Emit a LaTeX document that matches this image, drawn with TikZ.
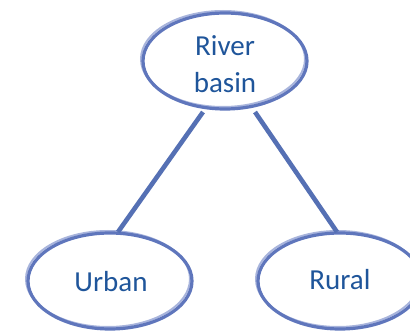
\documentclass[tikz,border=0pt]{standalone}
\usepackage{fontspec}
\setmainfont{Carlito}
\usetikzlibrary{shapes.geometric}
\definecolor{edgeblue}{HTML}{5570B4}
\definecolor{ringblue}{HTML}{5F76BC}
\definecolor{ringlight}{HTML}{A8B4DC}
\definecolor{txtblue}{HTML}{1F559A}
\tikzset{
  bubble/.style={ellipse, draw=ringblue, line width=3.2pt, minimum width=164pt, minimum height=96pt, inner sep=0pt},
  halo/.style={ellipse, draw=ringlight, line width=2pt, minimum width=164pt, minimum height=96pt, inner sep=0pt},
  label/.style={text=txtblue, font=\fontsize{29}{37}\selectfont, align=center},
  link/.style={draw=edgeblue, line width=4.6pt}
}
\begin{document}
\begin{tikzpicture}[x=1pt,y=-1pt]
\useasboundingbox (0,0) rectangle (410,331);
\node[halo] (basinhalo) at (223,59) {};
\node[halo] (urbanhalo) at (108,279) {};
\node[halo] (ruralhalo) at (338,279) {};
\node[bubble] (basin) at (225,61) {};
\node[bubble] (urban) at (110,281) {};
\node[bubble] (rural) at (340,281) {};
\node[label] (basintxt) at (225,64) {River\\basin};
\node[label] (urbantxt) at (111,282) {Urban};
\node[label] (ruraltxt) at (340,280) {Rural};
\coordinate (b1) at (203,112);
\coordinate (b2) at (255,112);
\coordinate (u1) at (118,232);
\coordinate (r1) at (337,232);
\draw[link] (b1) -- (u1);
\draw[link] (b2) -- (r1);
\end{tikzpicture}
\end{document}
